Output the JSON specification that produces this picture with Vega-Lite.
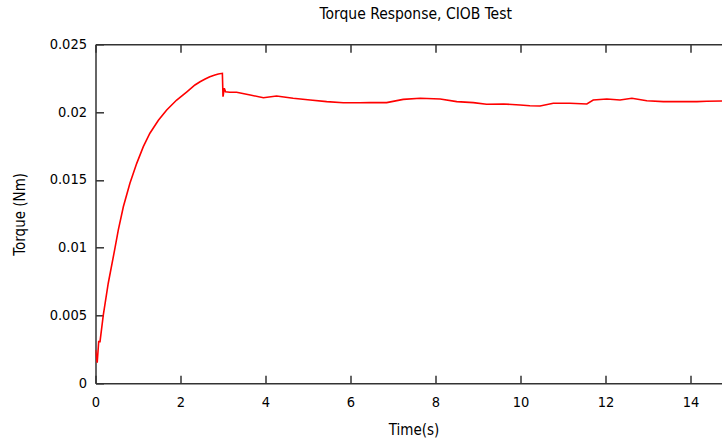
{
  "$schema": "https://vega.github.io/schema/vega-lite/v6.json",
  "autosize": "none",
  "width": 626.5,
  "height": 339,
  "padding": {"left": 95.5, "top": 44.3, "right": 0, "bottom": 59.7},
  "background": "white",
  "title": {"text": "Torque Response, CIOB Test", "font": "DejaVu Sans Condensed", "fontSize": 15.5, "fontWeight": "normal", "color": "#000000", "anchor": "middle", "dx": 7, "offset": 14},
  "config": {
    "view": {"stroke": null},
    "axis": {"grid": false, "labelFont": "DejaVu Sans Condensed", "labelFontSize": 14.5, "labelColor": "#000000", "labelFlush": false, "titleFont": "DejaVu Sans Condensed", "titleFontSize": 15, "titleFontWeight": "normal", "titleColor": "#000000", "domainColor": "#333333", "domainWidth": 1.5, "tickColor": "#333333", "tickWidth": 1.5, "tickSize": -8}
  },
  "data": {"values": [
    {"t": 0, "v": 0.00246}, {"t": 0.04, "v": 0.00152}, {"t": 0.075, "v": 0.00307}, {"t": 0.106, "v": 0.00307},
    {"t": 0.184, "v": 0.00504}, {"t": 0.30, "v": 0.00738}, {"t": 0.46, "v": 0.0100}, {"t": 0.537, "v": 0.01131},
    {"t": 0.655, "v": 0.01302}, {"t": 0.81, "v": 0.01475}, {"t": 0.97, "v": 0.01622}, {"t": 1.125, "v": 0.01745},
    {"t": 1.28, "v": 0.01844}, {"t": 1.48, "v": 0.0194}, {"t": 1.675, "v": 0.02016}, {"t": 1.91, "v": 0.02089},
    {"t": 2.15, "v": 0.0215}, {"t": 2.34, "v": 0.022}, {"t": 2.46, "v": 0.02224}, {"t": 2.58, "v": 0.02244},
    {"t": 2.69, "v": 0.02261}, {"t": 2.81, "v": 0.02274}, {"t": 2.89, "v": 0.02281},
    {"t": 2.985, "v": 0.02286}, {"t": 3.0, "v": 0.02114}, {"t": 3.03, "v": 0.02176}, {"t": 3.06, "v": 0.0215},
    {"t": 3.16, "v": 0.02146}, {"t": 3.32, "v": 0.02146}, {"t": 3.64, "v": 0.02126}, {"t": 3.95, "v": 0.02106},
    {"t": 4.26, "v": 0.02119}, {"t": 4.65, "v": 0.02102}, {"t": 5.05, "v": 0.02089}, {"t": 5.44, "v": 0.02077},
    {"t": 5.83, "v": 0.02069}, {"t": 6.22, "v": 0.02069}, {"t": 6.46, "v": 0.0207}, {"t": 6.85, "v": 0.0207},
    {"t": 7.24, "v": 0.02094}, {"t": 7.64, "v": 0.02102}, {"t": 8.11, "v": 0.02097}, {"t": 8.50, "v": 0.02077},
    {"t": 8.89, "v": 0.0207}, {"t": 9.20, "v": 0.02058}, {"t": 9.60, "v": 0.0206}, {"t": 9.99, "v": 0.02052},
    {"t": 10.22, "v": 0.02047}, {"t": 10.46, "v": 0.02045}, {"t": 10.77, "v": 0.02065}, {"t": 11.16, "v": 0.02065},
    {"t": 11.56, "v": 0.0206}, {"t": 11.71, "v": 0.02089}, {"t": 12.03, "v": 0.02097}, {"t": 12.34, "v": 0.02089},
    {"t": 12.62, "v": 0.02102}, {"t": 12.97, "v": 0.02084}, {"t": 13.36, "v": 0.02077}, {"t": 13.75, "v": 0.02077},
    {"t": 14.15, "v": 0.02077}, {"t": 14.38, "v": 0.0208}, {"t": 14.74, "v": 0.02082}
  ]},
  "layer": [
    {
      "mark": {"type": "line", "color": "#ff0000", "strokeWidth": 1.6, "clip": true},
      "encoding": {
        "x": {"field": "t", "type": "quantitative", "scale": {"domain": [0, 14.74], "nice": false, "zero": false},
              "axis": {"orient": "bottom", "title": "Time(s)", "values": [0, 2, 4, 6, 8, 10, 12, 14], "labelPadding": 20, "titlePadding": 14, "titleX": 318}},
        "y": {"field": "v", "type": "quantitative", "scale": {"domain": [0, 0.025], "nice": false},
              "axis": {"title": "Torque (Nm)", "values": [0, 0.005, 0.01, 0.015, 0.02, 0.025], "format": "~g", "labelPadding": 17, "titlePadding": 22}}
      }
    },
    {
      "mark": {"type": "line", "opacity": 0},
      "encoding": {
        "x": {"field": "t", "type": "quantitative", "scale": {"domain": [0, 14.74], "nice": false, "zero": false},
              "axis": {"orient": "top", "title": null, "labels": false, "values": [0, 2, 4, 6, 8, 10, 12, 14]}},
        "y": {"field": "v", "type": "quantitative"}
      }
    }
  ],
  "resolve": {"axis": {"x": "independent"}}
}
